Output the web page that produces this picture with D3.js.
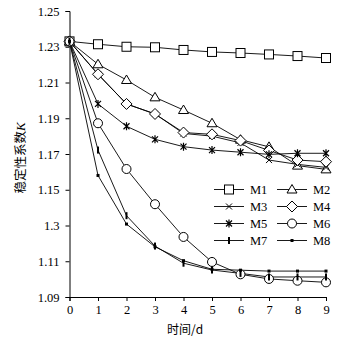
<!DOCTYPE html>
<html>
<head>
<meta charset="utf-8">
<script src="https://cdn.jsdelivr.net/npm/d3@7/dist/d3.min.js"></script>
<style>
  html, body { margin: 0; padding: 0; background: #fff; }
  svg { display: block; }
</style>
</head>
<body>
<svg id="chart" width="339" height="341"></svg>
<script>
// Days of observation
const days = [0, 1, 2, 3, 4, 5, 6, 7, 8, 9];

// Stability coefficient K for each model
const M1 = [1.233, 1.2314, 1.2300, 1.2297, 1.2282, 1.2271, 1.2265, 1.2257, 1.2248, 1.2237];
const M2 = [1.233, 1.2202, 1.2114, 1.2017, 1.1946, 1.1872, 1.1780, 1.1740, 1.1635, 1.1614];
const M3 = [1.233, 1.2146, 1.1980, 1.1924, 1.1815, 1.1800, 1.1762, 1.1666, 1.1642, 1.1625];
const M4 = [1.233, 1.2146, 1.1980, 1.1924, 1.1820, 1.1810, 1.1775, 1.1720, 1.1666, 1.1657];
const M5 = [1.233, 1.1980, 1.1855, 1.1782, 1.1741, 1.1722, 1.1710, 1.1698, 1.1704, 1.1704];
const M6 = [1.233, 1.1872, 1.1616, 1.1419, 1.1236, 1.1096, 1.1027, 1.1001, 1.0991, 1.0982];
const M7 = [1.233, 1.1722, 1.1355, 1.1185, 1.1089, 1.1051, 1.1032, 1.1012, 1.1012, 1.1012];
const M8 = [1.233, 1.1580, 1.1308, 1.1181, 1.1103, 1.1055, 1.1050, 1.1045, 1.1045, 1.1045];

const seriesNames = ["M1", "M2", "M3", "M4", "M5", "M6", "M7", "M8"];
const seriesValues = [M1, M2, M3, M4, M5, M6, M7, M8];
const seriesMarkers = ["square", "triangle", "cross", "diamond", "asterisk", "circle", "bar", "dot"];

// Y tick values and their printed labels
const yTickValues = [1.25, 1.23, 1.21, 1.19, 1.17, 1.15, 1.13, 1.11, 1.09];
const yTickLabels = ["1.25", "1.23", "1.21", "1.19", "1.17", "1.15", "1.3", "1.11", "1.09"];
const xTickValues = [0, 1, 2, 3, 4, 5, 6, 7, 8, 9];

const xLabel = "时间/d";
const yLabelMain = "稳定性系数";
const yLabelVar = "K";

const svg = d3.select("#chart");
const serif = "'Liberation Serif', 'DejaVu Serif', serif";
const cjk = "'Noto Sans CJK SC', sans-serif";

const x = d3.scaleLinear().domain([0, 9]).range([69.5, 326]);
const y = d3.scaleLinear().domain([1.09, 1.25]).range([297, 11]);

// Axes
const xAxis = d3.axisBottom(x).tickValues(xTickValues).tickSize(4).tickPadding(4)
  .tickFormat(d3.format("d"));
const yLabelMap = new Map(yTickValues.map((v, i) => [v, yTickLabels[i]]));
const yAxis = d3.axisLeft(y).tickValues(yTickValues).tickSize(4).tickPadding(6)
  .tickFormat(d => yLabelMap.get(d));

const gx = svg.append("g").attr("transform", "translate(0,297)").call(xAxis);
const gy = svg.append("g").attr("transform", "translate(69.5,0)").call(yAxis);
[gx, gy].forEach(g => {
  g.select(".domain").attr("stroke", "#000").attr("stroke-width", 1);
  g.selectAll(".tick line").attr("stroke", "#000").attr("stroke-width", 1);
  g.selectAll(".tick text").attr("fill", "#000")
    .style("font-family", serif).style("font-size", "12.5px");
});

// Axis titles
svg.append("text")
  .attr("x", 185).attr("y", 334)
  .attr("text-anchor", "middle")
  .style("font-family", cjk).style("font-size", "12px")
  .text(xLabel);

const yt = svg.append("text")
  .attr("transform", "translate(25,158) rotate(-90)")
  .attr("text-anchor", "middle")
  .style("font-size", "12.5px");
yt.append("tspan").style("font-family", cjk).text(yLabelMain);
yt.append("tspan").style("font-family", serif).style("font-style", "italic")
  .style("font-size", "13px").text(yLabelVar);

// Marker drawing
function drawMarker(g, type, cx, cy) {
  const s = "#000";
  switch (type) {
    case "square":
      g.append("rect").attr("x", cx - 4.5).attr("y", cy - 4.5).attr("width", 9).attr("height", 9)
        .attr("fill", "#fff").attr("stroke", s).attr("stroke-width", 1);
      break;
    case "triangle":
      g.append("path").attr("d", `M${cx},${cy - 5}L${cx + 5},${cy + 3.5}L${cx - 5},${cy + 3.5}Z`)
        .attr("fill", "#fff").attr("stroke", s).attr("stroke-width", 1);
      break;
    case "diamond":
      g.append("path").attr("d", `M${cx},${cy - 5.5}L${cx + 5.5},${cy}L${cx},${cy + 5.5}L${cx - 5.5},${cy}Z`)
        .attr("fill", "#fff").attr("stroke", s).attr("stroke-width", 1);
      break;
    case "circle":
      g.append("circle").attr("cx", cx).attr("cy", cy).attr("r", 4.5)
        .attr("fill", "#fff").attr("stroke", s).attr("stroke-width", 1);
      break;
    case "cross":
      g.append("path").attr("d", `M${cx - 3},${cy - 3}L${cx + 3},${cy + 3}M${cx - 3},${cy + 3}L${cx + 3},${cy - 3}`)
        .attr("fill", "none").attr("stroke", s).attr("stroke-width", 1);
      break;
    case "asterisk":
      g.append("path").attr("d", `M${cx - 3},${cy - 3}L${cx + 3},${cy + 3}M${cx - 3},${cy + 3}L${cx + 3},${cy - 3}M${cx},${cy - 4}L${cx},${cy + 4}`)
        .attr("fill", "none").attr("stroke", s).attr("stroke-width", 1.2);
      break;
    case "bar":
      g.append("rect").attr("x", cx - 1).attr("y", cy - 3.5).attr("width", 2).attr("height", 7)
        .attr("fill", s);
      break;
    case "dot":
      g.append("rect").attr("x", cx - 1.5).attr("y", cy - 1.5).attr("width", 3).attr("height", 3)
        .attr("fill", s);
      break;
  }
}

const line = d3.line().x((d, i) => x(days[i])).y(d => y(d));

// Lines first, markers on top
const plot = svg.append("g");
seriesValues.forEach(vals => {
  plot.append("path").datum(vals).attr("d", line)
    .attr("fill", "none").attr("stroke", "#000").attr("stroke-width", 0.9);
});
seriesValues.forEach((vals, k) => {
  const g = plot.append("g");
  vals.forEach((v, i) => drawMarker(g, seriesMarkers[k], x(days[i]), y(v)));
});

// Legend: two columns, four rows
const legend = svg.append("g");
const colX = [214, 277];
const rowY = [189.5, 206.5, 223.5, 240.5];
seriesNames.forEach((name, k) => {
  const lx = colX[k % 2], ly = rowY[Math.floor(k / 2)];
  const g = legend.append("g");
  g.append("line").attr("x1", lx).attr("x2", lx + 30).attr("y1", ly).attr("y2", ly)
    .attr("stroke", "#000").attr("stroke-width", 0.9);
  drawMarker(g, seriesMarkers[k], lx + 15, ly);
  g.append("text").attr("x", lx + 36).attr("y", ly + 4.5)
    .style("font-family", serif).style("font-size", "12.5px").text(name);
});
</script>
</body>
</html>
